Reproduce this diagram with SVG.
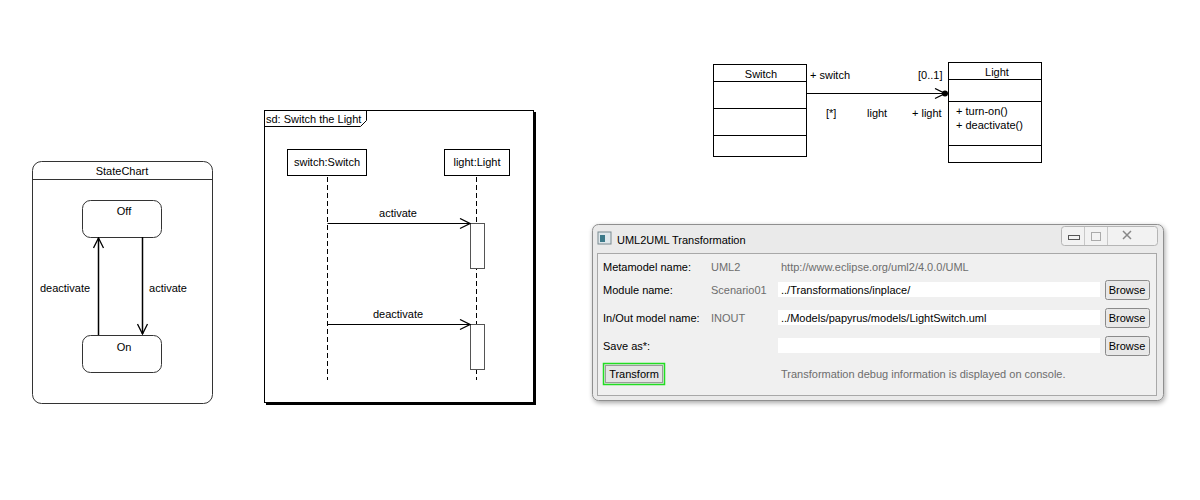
<svg xmlns="http://www.w3.org/2000/svg" width="1200" height="500" viewBox="0 0 1200 500">
<defs>
<style>
text{font-family:"Liberation Sans",Arial,sans-serif;font-size:11px;fill:#000}
.c{text-anchor:middle}
.g{fill:#6d6d6d}
.ln{fill:none;stroke:#000;stroke-width:1}
.box{fill:#fff;stroke:#000;stroke-width:1}
.st{fill:#fff;stroke:#333;stroke-width:1}
.dash{stroke:#000;stroke-width:1;stroke-dasharray:5,3}
.field{fill:#fff;stroke:none}
.btn{fill:#e8e8e8;stroke:#8a8a8a;stroke-width:1}
</style>
<marker id="open" viewBox="0 0 12 12" refX="11" refY="6" markerWidth="12" markerHeight="12" markerUnits="userSpaceOnUse" orient="auto">
<path d="M1,1 L11,6 L1,11" fill="none" stroke="#000" stroke-width="1.3"/>
</marker>
<filter id="sh" x="-5%" y="-5%" width="115%" height="120%">
<feGaussianBlur in="SourceAlpha" stdDeviation="2.5"/>
<feOffset dx="1" dy="2"/>
<feComponentTransfer><feFuncA type="linear" slope="0.35"/></feComponentTransfer>
<feMerge><feMergeNode/><feMergeNode in="SourceGraphic"/></feMerge>
</filter>
</defs>
<rect width="1200" height="500" fill="#fff"/>

<!-- State chart -->
<g id="statechart">
<rect x="32.5" y="161.5" width="180" height="242" rx="9" class="st"/>
<line x1="32.5" y1="179.5" x2="212.5" y2="179.5" stroke="#333"/>
<text x="122" y="175" class="c">StateChart</text>
</g>
<g id="state-off">
<rect x="82.5" y="200.5" width="79" height="37" rx="8" class="st"/>
<text x="124" y="215" class="c">Off</text>
</g>
<g id="state-on">
<rect x="82.5" y="335.5" width="79" height="37" rx="8" class="st"/>
<text x="124" y="351" class="c">On</text>
</g>

<!-- Sequence diagram frame -->
<g id="sd-frame">
<rect x="266" y="112" width="270" height="293" fill="#000"/>
<rect x="264.5" y="110.5" width="269" height="292" class="box"/>
<path d="M264.5,126.5 H360.5 L366.5,120.5 V110.5" class="ln"/>
<text x="266" y="123">sd: Switch the Light</text>
</g>
<g id="lifeline-switch">
<rect x="287.5" y="149.5" width="79" height="26" class="box"/>
<text x="327" y="166" class="c">switch:Switch</text>
<line x1="327.5" y1="177" x2="327.5" y2="380" class="dash"/>
</g>
<g id="lifeline-light">
<rect x="444.5" y="149.5" width="65" height="26" class="box"/>
<text x="477" y="166" class="c">light:Light</text>
<line x1="476.5" y1="177" x2="476.5" y2="380" class="dash"/>
<rect x="470.5" y="223.5" width="14" height="45" fill="#fff" stroke="#555"/>
<rect x="470.5" y="324.5" width="14" height="45" fill="#fff" stroke="#555"/>
</g>

<!-- Class diagram -->
<g id="class-switch">
<rect x="713.5" y="64.5" width="93" height="92" class="box"/>
<line x1="713.5" y1="81.5" x2="806.5" y2="81.5" stroke="#000"/>
<line x1="713.5" y1="108.5" x2="806.5" y2="108.5" stroke="#000"/>
<line x1="713.5" y1="135.5" x2="806.5" y2="135.5" stroke="#000"/>
<text x="761" y="78" class="c">Switch</text>
</g>
<g id="class-light">
<rect x="948.5" y="62.5" width="93" height="100" class="box"/>
<line x1="948.5" y1="79.5" x2="1041.5" y2="79.5" stroke="#000"/>
<line x1="948.5" y1="101.5" x2="1041.5" y2="101.5" stroke="#000"/>
<line x1="948.5" y1="145.5" x2="1041.5" y2="145.5" stroke="#000"/>
<text x="997" y="76" class="c">Light</text>
<text x="956" y="115">+ turn-on()</text>
<text x="956" y="129">+ deactivate()</text>
</g>

<!-- Connectors -->
<g id="connectors">
<line x1="98.5" y1="335" x2="98.5" y2="238" stroke="#000" stroke-width="1.5" marker-end="url(#open)"/>
<line x1="142.5" y1="237" x2="142.5" y2="334" stroke="#000" stroke-width="1.5" marker-end="url(#open)"/>
<text x="65" y="292" class="c">deactivate</text>
<text x="168" y="292" class="c">activate</text>

<line x1="327.5" y1="223.5" x2="470" y2="223.5" stroke="#000" stroke-width="1.2" marker-end="url(#open)"/>
<text x="398" y="217" class="c">activate</text>
<line x1="327.5" y1="324.5" x2="470" y2="324.5" stroke="#000" stroke-width="1.2" marker-end="url(#open)"/>
<text x="398" y="318" class="c">deactivate</text>

<line x1="806.5" y1="93.5" x2="945" y2="93.5" stroke="#000" stroke-width="1" marker-end="url(#open)"/>
<circle cx="945" cy="93.5" r="3" fill="#000"/>
<text x="810" y="79">+ switch</text>
<text x="918" y="79">[0..1]</text>
<text x="826" y="117">[*]</text>
<text x="867" y="117">light</text>
<text x="912" y="117">+ light</text>
</g>

<!-- Dialog window -->
<g id="dialog">
<rect x="592.5" y="224.5" width="571" height="176" rx="6" fill="#eaeaea" stroke="#8f8f8f" filter="url(#sh)"/>
<rect x="598" y="232" width="13" height="12" fill="#dfe8ec" stroke="#7a8a90"/>
<rect x="600" y="235" width="5" height="7" fill="#3c7a8a"/>
<text x="617" y="244">UML2UML Transformation</text>
<rect x="1061.5" y="226.5" width="96" height="19" rx="3" fill="#f2f2f2" stroke="#b5b5b5"/>
<line x1="1084.5" y1="227" x2="1084.5" y2="245" stroke="#c8c8c8"/>
<line x1="1107.5" y1="227" x2="1107.5" y2="245" stroke="#c8c8c8"/>
<rect x="1068.5" y="235.5" width="11" height="4" fill="none" stroke="#555"/>
<rect x="1091.5" y="232.5" width="9" height="8" fill="none" stroke="#aaa"/>
<path d="M1123,231 L1131,239 M1131,231 L1123,239" stroke="#888" stroke-width="1.5"/>
<rect x="597.5" y="253.5" width="559" height="142" fill="#f0f0f0" stroke="#a8a8a8"/>

<text x="603" y="271">Metamodel name:</text>
<text x="711" y="271" class="g">UML2</text>
<text x="781" y="271" class="g">http://www.eclipse.org/uml2/4.0.0/UML</text>

<text x="603" y="294">Module name:</text>
<text x="711" y="294" class="g">Scenario01</text>
<rect x="778" y="282" width="322" height="15" class="field"/>
<text x="781" y="294">../Transformations/inplace/</text>

<text x="603" y="322">In/Out model name:</text>
<text x="711" y="322" class="g">INOUT</text>
<rect x="778" y="310" width="322" height="15" class="field"/>
<text x="781" y="322">../Models/papyrus/models/LightSwitch.uml</text>

<text x="603" y="350">Save as*:</text>
<rect x="778" y="338" width="322" height="15" class="field"/>

<rect x="1105.5" y="280.5" width="44" height="19" rx="2" class="btn"/>
<text x="1127" y="294" class="c">Browse</text>
<rect x="1105.5" y="308.5" width="44" height="19" rx="2" class="btn"/>
<text x="1127" y="322" class="c">Browse</text>
<rect x="1105.5" y="336.5" width="44" height="19" rx="2" class="btn"/>
<text x="1127" y="350" class="c">Browse</text>

<rect x="603.5" y="363.5" width="61" height="21" fill="#e4e4e4" stroke="#22dd22" stroke-width="1.5"/>
<rect x="605.5" y="365.5" width="57" height="17" fill="none" stroke="#9a9a9a"/>
<text x="634" y="378" class="c">Transform</text>
<text x="781" y="378" class="g">Transformation debug information is displayed on console.</text>
</g>
</svg>
